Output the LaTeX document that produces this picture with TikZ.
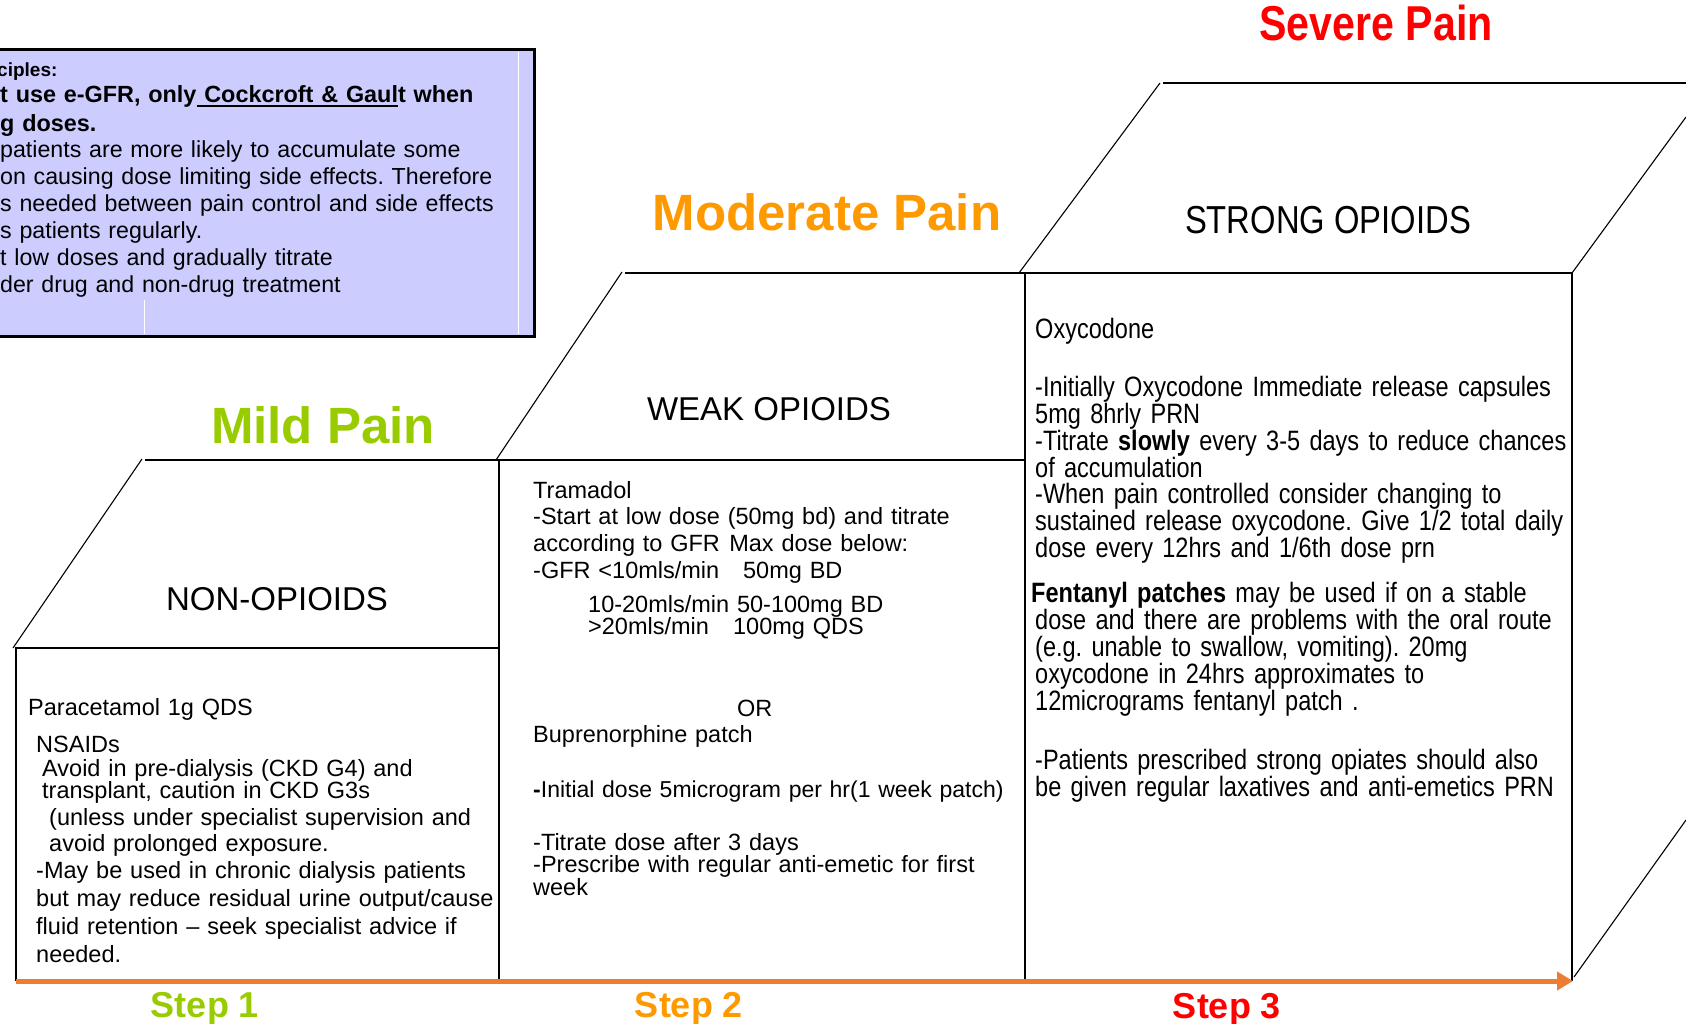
\documentclass[tikz,border=0pt]{standalone}
\usepackage{fontspec}
\setmainfont{Liberation Sans}
\newfontfamily\narrowfont[FakeStretch=0.84]{Liberation Sans}
\usetikzlibrary{arrows.meta}
\definecolor{mildgreen}{HTML}{99CC00}
\definecolor{modorange}{HTML}{FF9900}
\definecolor{sevred}{HTML}{FF0000}
\definecolor{arroworange}{HTML}{ED7D31}
\definecolor{notefill}{HTML}{CCCCFF}
\lineskiplimit=-100pt
\frenchspacing
\newcommand\ulpart[1]{\setbox0\hbox{#1}\rlap{\rule[-4pt]{\wd0}{2.4pt}}\box0}
\tikzstyle{stairline}=[line width=2.7pt,line join=miter]
\tikzstyle{slantline}=[line width=1.1pt]
\tikzstyle{notebox}=[draw=black,fill=notefill,line width=3pt]
\tikzstyle{paintitle}=[font=\fontsize{51}{56}\selectfont\bfseries,anchor=base,inner sep=0pt]
\tikzstyle{drugclass}=[font=\fontsize{33}{38}\selectfont,anchor=base,inner sep=0pt]
\tikzstyle{steplabel}=[font=\fontsize{36}{40}\selectfont\bfseries,anchor=base,inner sep=0pt]
\tikzstyle{body}=[font=\fontsize{23.5}{26.7}\selectfont,anchor=base west,inner sep=0pt,text width=560pt,align=left]
\tikzstyle{notebold}=[body,font=\fontsize{23.4}{29}\selectfont\bfseries]
\tikzstyle{narrowbody}=[body,font=\narrowfont\fontsize{28}{26}\selectfont]
\tikzstyle{steparrow}=[line width=5pt,draw=arroworange,-{Triangle[length=16pt,width=18pt]}]

\begin{document}
\frenchspacing
\begin{tikzpicture}[x=1pt,y=-1pt]
\useasboundingbox (0,0) rectangle (1686,1024);
\draw[notebox] (-20,50) rectangle (534,336);
\draw[white,line width=1pt] (518,52) -- (518,334);
\draw[white,line width=1pt] (144,300) -- (144,334);
\node[notebold,font=\fontsize{19}{22}\selectfont\bfseries] (princhead) at (-3,77) {ciples:};
\node[notebold] (princrule) at (0,103) {t use e-GFR, only\ulpart{ Cockcroft \& Gaul}t when\\g doses.};
\node[body,font=\fontsize{23.2}{27}\selectfont] (princtext) at (0,158) {patients are more likely to accumulate some\\on causing dose limiting side effects. Therefore\\s needed between pain control and side effects\\s patients regularly.\\t low doses and gradually titrate\\der drug and non-drug treatment};

\draw[stairline] (16,981) -- (16,648) -- (499,648);
\draw[stairline] (145,460) -- (1025,460);
\draw[stairline] (499,460) -- (499,981);
\draw[stairline] (625,273) -- (1572,273) -- (1572,981);
\draw[stairline] (1025,273) -- (1025,981);
\draw[stairline] (1163,83) -- (1700,83);
\draw[slantline] (13,648) -- (142,459);
\draw[slantline] (496,460) -- (622,272);
\draw[slantline] (1019,273) -- (1160,83);
\draw[slantline] (1572,273) -- (1686,117);
\draw[slantline] (1574,977) -- (1686,820);

\node[paintitle,text=mildgreen] (mildtitle) at (323,443) {Mild Pain};
\node[paintitle,text=modorange] (modtitle) at (827,231) {Moderate Pain};
\node[paintitle,text=sevred,font=\narrowfont\fontsize{49}{52}\selectfont\bfseries] (sevtitle) at (1376,41) {Severe Pain};
\node[drugclass] (nonop) at (277,610) {NON-OPIOIDS};
\node[drugclass] (weakop) at (769,420) {WEAK OPIOIDS};
\node[drugclass,font=\narrowfont\fontsize{39}{44}\selectfont] (strongop) at (1328,234) {STRONG OPIOIDS};

\node[body] (parac) at (28,715) {Paracetamol 1g QDS};
\node[body] (nsaids) at (36,752) {NSAIDs};
\node[body,font=\fontsize{23.5}{21.6}\selectfont] (avoid) at (42,776) {Avoid in pre-dialysis (CKD G4) and\\transplant, caution in CKD G3s};
\node[body,font=\fontsize{23.5}{26}\selectfont] (unless) at (49,825) {(unless under specialist supervision and\\avoid prolonged exposure.};
\node[body,font=\fontsize{23.5}{28}\selectfont] (dialysis) at (36,878) {-May be used in chronic dialysis patients\\but may reduce residual urine output/cause\\fluid retention -- seek specialist advice if\\needed.};

\node[body] (tramadol) at (533,498) {Tramadol\\-Start at low dose (50mg bd) and titrate\\according to GFR\hspace{0.4em}Max dose below:\\\makebox[210pt][l]{-GFR <10mls/min}50mg BD};
\node[body,font=\fontsize{23.5}{22.6}\selectfont] (gfrrows) at (588,612) {10-20mls/min 50-100mg BD\\\makebox[145pt][l]{>20mls/min}100mg QDS};
\node[body] (orword) at (737,716) {OR};
\node[body] (bup) at (533,742) {Buprenorphine patch};
\node[body,font=\fontsize{23}{26}\selectfont] (initial) at (533,797) {\textbf{-}Initial dose 5microgram per hr(1 week patch)};
\node[body,font=\fontsize{23.5}{21.7}\selectfont] (titrate) at (533,850) {-Titrate dose after 3 days\\-Prescribe with regular anti-emetic for first\\week};

\node[narrowbody] (oxy) at (1035,338) {Oxycodone};
\node[narrowbody] (oxyinit) at (1035,396) {-Initially Oxycodone Immediate release capsules\\5mg 8hrly PRN\\-Titrate \textbf{slowly} every 3-5 days to reduce chances\\of accumulation\\-When pain controlled consider changing to\\sustained release oxycodone. Give 1/2 total daily\\dose every 12hrs and 1/6th dose prn};
\node[narrowbody] (fentahead) at (1031,602) {\textbf{Fentanyl patches} may be used if on a stable};
\node[narrowbody,font=\narrowfont\fontsize{28}{25.4}\selectfont] (fenta) at (1035,629) {dose and there are problems with the oral route\\(e.g. unable to swallow, vomiting). 20mg\\oxycodone in 24hrs approximates to\\12micrograms fentanyl patch .};
\node[narrowbody,font=\narrowfont\fontsize{28}{27}\selectfont] (laxative) at (1035,769) {-Patients prescribed strong opiates should also\\be given regular laxatives and anti-emetics PRN};

\node[steplabel,text=mildgreen] (step1) at (205,1017) {Step 1};
\node[steplabel,text=modorange] (step2) at (689,1017) {Step 2};
\node[steplabel,text=sevred] (step3) at (1227,1018) {Step 3};
\coordinate (arrowstart) at (16,981);
\coordinate (arrowend) at (1573,981);
\draw[steparrow] (arrowstart) -- (arrowend);
\end{tikzpicture}
\end{document}
